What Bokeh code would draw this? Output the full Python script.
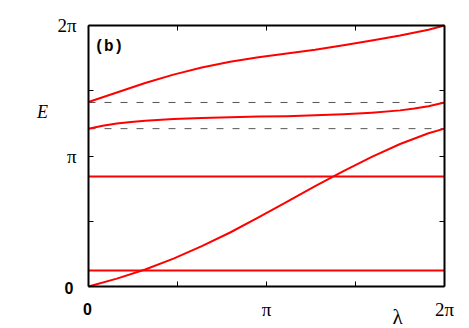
import math
from bokeh.plotting import figure
from bokeh.models import (Range1d, FixedTicker, CustomJSTickFormatter, LinearAxis, Label)
from bokeh.embed import file_html
from bokeh.resources import INLINE

TWO_PI = 2 * math.pi

# band 1 (upper): starts at upper dashed level, ends at 2*pi
lam_upper = [0, 0.5, 1.0, 1.5, 2.0, 2.5, 3.0, 3.5, 4.0, 4.5, 5.0, 5.5, 6.0, TWO_PI]
E_upper = [4.44, 4.67, 4.90, 5.10, 5.27, 5.41, 5.52, 5.61, 5.70, 5.81, 5.92, 6.04, 6.18, TWO_PI]

# band 2 (middle, nearly flat)
lam_mid = [0, 0.25, 0.5, 0.75, 1.0, 1.5, 2.0, 2.5, 3.0, 3.5, 4.0, 4.5, 5.0, 5.5, 5.75, 6.0, TWO_PI]
E_mid = [3.80, 3.87, 3.925, 3.96, 3.99, 4.03, 4.055, 4.075, 4.09, 4.10, 4.12, 4.145, 4.185, 4.24, 4.285, 4.34, 4.43]

# band 3 (lower, rising from 0)
lam_low = [0, 0.5, 1.0, 1.5, 2.0, 2.5, 3.0, 3.5, 4.0, 4.5, 5.0, 5.5, 6.0, TWO_PI]
E_low = [0, 0.19, 0.41, 0.67, 0.97, 1.30, 1.665, 2.04, 2.415, 2.78, 3.12, 3.43, 3.69, 3.80]

# flat bands
flat_levels = [0.385, 2.648]
# dashed reference levels
dashed_levels = [3.80, 4.43]

x_ticks = [0, math.pi / 2, math.pi, 3 * math.pi / 2, TWO_PI]
y_ticks = [0, math.pi / 2, math.pi, 3 * math.pi / 2, TWO_PI]

# layout (pixels): plot box from x=88..444, y=25..286 on a 469x328 canvas
W, H = 469, 328
BOX_L, BOX_R, BOX_T, BOX_B = 88, 444, 25, 286
sx = (BOX_R - BOX_L) / TWO_PI
sy = (BOX_B - BOX_T) / TWO_PI
x_range = Range1d(-BOX_L / sx, (W - BOX_L) / sx)
y_range = Range1d(-(H - BOX_B) / sy, BOX_B / sy)

p = figure(width=W, height=H, output_backend="svg", toolbar_location=None,
           x_range=x_range, y_range=y_range,
           x_axis_location=None, y_axis_location=None, min_border=0)
p.grid.visible = False
p.outline_line_color = None
p.background_fill_color = "white"
p.border_fill_color = "white"

fmt = CustomJSTickFormatter(code="""
if (Math.abs(tick - Math.PI) < 1e-6) return '\u03c0';
if (Math.abs(tick - 2*Math.PI) < 1e-6) return '2\u03c0';
return '';
""")

def make_axis(ticks, loc, labels):
    ax = LinearAxis(ticker=FixedTicker(ticks=ticks), formatter=fmt,
                    fixed_location=loc, bounds=(0, TWO_PI))
    ax.axis_line_color = "black"
    ax.axis_line_width = 2
    ax.major_tick_in = 5
    ax.major_tick_out = 0
    ax.major_tick_line_width = 1
    ax.minor_tick_line_color = None
    if labels:
        ax.major_label_text_font = "Liberation Serif"
        ax.major_label_text_font_size = "19px"
        ax.major_label_text_color = "black"
        ax.major_label_standoff = 12
    else:
        ax.major_label_text_font_size = "0px"
        ax.major_label_standoff = 0
    return ax

p.add_layout(make_axis(x_ticks, 0, True), "below")
p.add_layout(make_axis(y_ticks, 0, True), "left")
p.add_layout(make_axis(x_ticks, TWO_PI, False), "above")
p.add_layout(make_axis(y_ticks, TWO_PI, False), "right")

for lvl in dashed_levels:
    p.line([0, TWO_PI], [lvl, lvl], line_color="#555555", line_width=1, line_dash="7 9")

red = "#ff0000"
p.line(lam_upper, E_upper, line_color=red, line_width=2, line_join="round")
p.line(lam_mid, E_mid, line_color=red, line_width=2, line_join="round")
p.line(lam_low, E_low, line_color=red, line_width=2, line_join="round")
for lvl in flat_levels:
    p.line([0, TWO_PI], [lvl, lvl], line_color=red, line_width=2)

# bold "0" tick labels
p.add_layout(Label(x=0, y=0, text="0", text_color="black",
                   text_font="Liberation Sans", text_font_style="bold",
                   text_font_size="16px", text_align="center", text_baseline="middle",
                   x_offset=-19.5, y_offset=-1.5))
p.add_layout(Label(x=0, y=0, text="0", text_color="black",
                   text_font="Liberation Sans", text_font_style="bold",
                   text_font_size="16px", text_align="center", text_baseline="middle",
                   x_offset=-1, y_offset=-22.5))

# panel tag and axis titles
p.add_layout(Label(x=0, y=TWO_PI, text="(b)", text_color="black",
                   text_font="Liberation Mono", text_font_style="bold",
                   text_font_size="16px", text_align="left", text_baseline="middle",
                   x_offset=6, y_offset=-21))
p.add_layout(Label(x=0, y=TWO_PI, text="E", text_color="black",
                   text_font="Liberation Serif", text_font_style="italic",
                   text_font_size="18px", text_align="center", text_baseline="middle",
                   x_offset=-46, y_offset=-86))
p.add_layout(Label(x=TWO_PI, y=0, text="\u03bb", text_color="black",
                   text_font="Liberation Serif",
                   text_font_size="21px", text_align="center", text_baseline="middle",
                   x_offset=-47, y_offset=-30))

open("out.html", "w").write(file_html(p, INLINE))
